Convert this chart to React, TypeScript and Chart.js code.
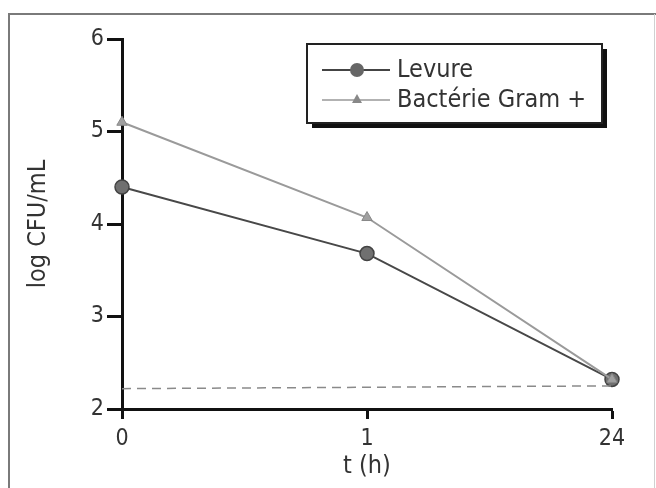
import React, { useEffect, useRef } from "react";
import { Chart, registerables } from "chart.js";

Chart.register(...registerables);

const categories = ["0", "1", "24"];
const levure = [4.4, 3.68, 2.32];
const bacterie = [5.1, 4.07, 2.32];
const detectionLimit = [2.22, 2.235, 2.25];
const seriesNames = ["Levure", "Bactérie Gram +"];
const yTitle = "log CFU/mL";
const xTitle = "t (h)";

const FONT = "'DejaVu Sans Condensed', 'DejaVu Sans', sans-serif";

const framePlugin = {
  id: "frame",
  beforeDraw(chart: any) {
    const ctx = chart.ctx;
    ctx.save();
    ctx.strokeStyle = "#7a7a7a";
    ctx.lineWidth = 2;
    ctx.beginPath();
    ctx.moveTo(8, 14);
    ctx.lineTo(656, 14);
    ctx.moveTo(9, 14);
    ctx.lineTo(9, 488);
    ctx.stroke();
    ctx.strokeStyle = "#d0d0d0";
    ctx.lineWidth = 1;
    ctx.beginPath();
    ctx.moveTo(654.5, 14);
    ctx.lineTo(654.5, 488);
    ctx.stroke();
    ctx.restore();
  },
};

const legendPlugin = {
  id: "boxLegend",
  afterDraw(chart: any) {
    const ctx = chart.ctx;
    const x = 307, y = 44, w = 295, h = 79, sh = 5;
    ctx.save();
    ctx.fillStyle = "#111";
    ctx.fillRect(x + sh, y + sh, w, h);
    ctx.fillStyle = "#fff";
    ctx.fillRect(x, y, w, h);
    ctx.strokeStyle = "#222";
    ctx.lineWidth = 2;
    ctx.strokeRect(x, y, w, h);

    // Levure
    const r1y = 70;
    ctx.strokeStyle = "#444";
    ctx.lineWidth = 2;
    ctx.beginPath();
    ctx.moveTo(322, r1y);
    ctx.lineTo(390, r1y);
    ctx.stroke();
    ctx.fillStyle = "#666";
    ctx.beginPath();
    ctx.arc(357, r1y, 7, 0, Math.PI * 2);
    ctx.fill();

    // Bacterie
    const r2y = 100;
    ctx.strokeStyle = "#999";
    ctx.lineWidth = 1.5;
    ctx.beginPath();
    ctx.moveTo(322, r2y);
    ctx.lineTo(390, r2y);
    ctx.stroke();
    ctx.fillStyle = "#888";
    ctx.beginPath();
    ctx.moveTo(357, r2y - 6);
    ctx.lineTo(362, r2y + 3);
    ctx.lineTo(352, r2y + 3);
    ctx.closePath();
    ctx.fill();

    ctx.fillStyle = "#333";
    ctx.font = `25px ${FONT}`;
    ctx.textBaseline = "middle";
    ctx.textAlign = "left";
    ctx.fillText(seriesNames[0], 397, r1y);
    ctx.fillText(seriesNames[1], 397, r2y);
    ctx.restore();
  },
};

export default function App() {
  const ref = useRef<HTMLCanvasElement | null>(null);

  useEffect(() => {
    if (!ref.current) return;
    const chart = new Chart(ref.current, {
      type: "line",
      data: {
        labels: categories,
        datasets: [
          {
            label: "limit",
            data: detectionLimit,
            borderColor: "#8a8a8a",
            borderWidth: 1.5,
            borderDash: [9, 6],
            pointRadius: 0,
            fill: false,
          },
          {
            label: seriesNames[1],
            data: bacterie,
            borderColor: "#9a9a9a",
            borderWidth: 2,
            pointStyle: "triangle",
            pointRadius: 6,
            pointBackgroundColor: "#a0a0a0",
            pointBorderColor: "#888",
            pointBorderWidth: 1,
            fill: false,
          },
          {
            label: seriesNames[0],
            data: levure,
            borderColor: "#484848",
            borderWidth: 2,
            pointStyle: "circle",
            pointRadius: 7,
            pointBackgroundColor: "#707070",
            pointBorderColor: "#444",
            pointBorderWidth: 1.5,
            fill: false,
          },
        ],
      },
      options: {
        animation: false,
        responsive: false,
        maintainAspectRatio: false,
        layout: { padding: { top: 39, right: 44, left: 0, bottom: 0 } },
        plugins: {
          legend: { display: false },
          tooltip: { enabled: false },
        },
        scales: {
          x: {
            type: "category",
            offset: false,
            afterFit(scale: any) {
              scale.height = 79;
            },
            grid: {
              drawOnChartArea: false,
              drawTicks: true,
              tickLength: 10,
              tickWidth: 3,
              tickColor: "#111",
            },
            border: { display: true, color: "#111", width: 3 },
            ticks: {
              color: "#333",
              padding: 6,
              maxRotation: 0,
              font: { family: FONT, size: 23 },
            },
            title: {
              display: true,
              text: xTitle,
              color: "#333",
              font: { family: FONT, size: 25 },
              padding: { top: 0, bottom: 7 },
            },
          },
          y: {
            type: "linear",
            min: 2,
            max: 6,
            afterFit(scale: any) {
              scale.width = 122;
            },
            grid: {
              drawOnChartArea: false,
              drawTicks: true,
              tickLength: 15,
              tickWidth: 3,
              tickColor: "#111",
            },
            border: { display: true, color: "#111", width: 3 },
            ticks: {
              stepSize: 1,
              color: "#333",
              padding: 3,
              font: { family: FONT, size: 23 },
            },
            title: {
              display: true,
              text: yTitle,
              color: "#333",
              font: { family: FONT, size: 25 },
              padding: { top: 23, bottom: 0 },
            },
          },
        },
      },
      plugins: [framePlugin, legendPlugin],
    } as any);
    return () => chart.destroy();
  }, []);

  return (
    <div style={{ position: "absolute", left: 0, top: 0, width: 656, height: 488, background: "#fff" }}>
      <canvas ref={ref} width={656} height={488} style={{ width: 656, height: 488 }} />
    </div>
  );
}
